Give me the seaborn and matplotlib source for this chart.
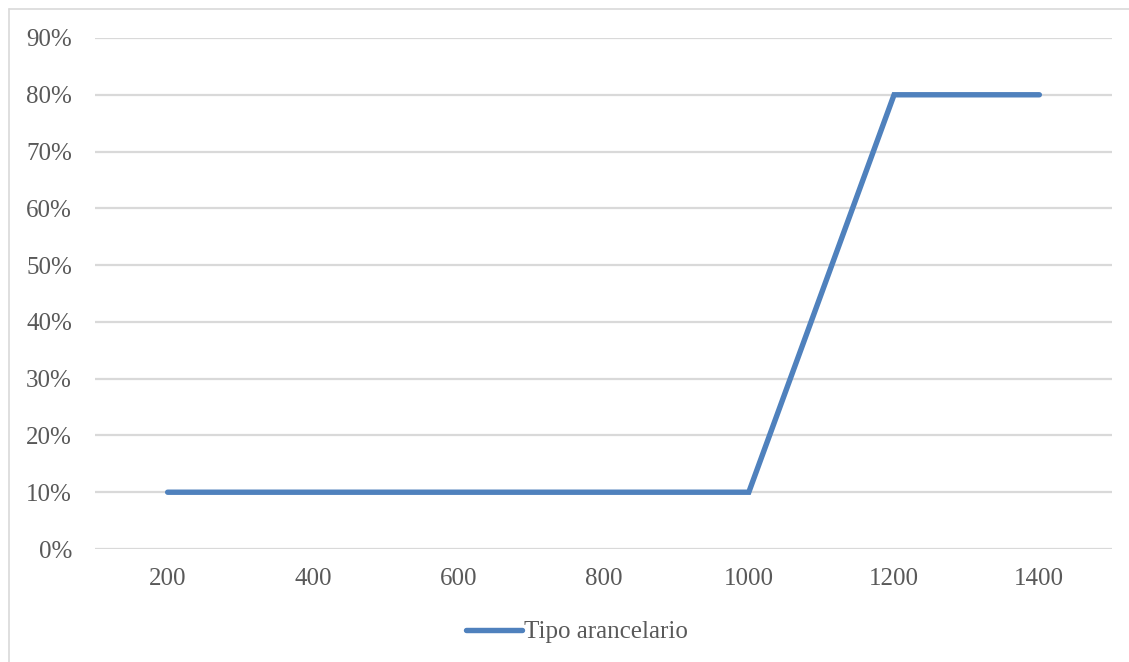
import matplotlib
matplotlib.use("Agg")
import matplotlib.pyplot as plt
from matplotlib.lines import Line2D
from matplotlib.ticker import PercentFormatter
import seaborn as sns
import pandas as pd

# Tariff rate by import value bracket
brackets = [200, 400, 600, 800, 1000, 1200, 1400]
tipo_arancelario = [0.10, 0.10, 0.10, 0.10, 0.10, 0.80, 0.80]
y_ticks = [0.0, 0.1, 0.2, 0.3, 0.4, 0.5, 0.6, 0.7, 0.8, 0.9]
series_name = "Tipo arancelario"

sns.set_theme(style="white")
plt.rcParams["font.family"] = ["Liberation Serif", "DejaVu Serif"]

df = pd.DataFrame({"valor": brackets, "tipo": tipo_arancelario})

W, H = 1129, 662
fig = plt.figure(figsize=(W / 100, H / 100), dpi=100)
ax = fig.add_axes([95 / W, 1 - 549 / H, (1112 - 95) / W, (549 - 38) / H])

blue = "#4F81BD"
grid_c = "#D9D9D9"
text_c = "#595959"
fs = 18

sns.lineplot(data=df, x="valor", y="tipo", ax=ax, color=blue, linewidth=3.9,
             solid_capstyle="round", solid_joinstyle="miter", label=series_name,
             legend=False)

ax.set_xlim(100, 1500)
ax.set_ylim(0, 0.9)
ax.set_xticks(brackets)
ax.set_xticklabels([str(b) for b in brackets])
ax.set_yticks(y_ticks)
ax.yaxis.set_major_formatter(PercentFormatter(1.0, decimals=0))

for y in y_ticks:
    ax.axhline(y, color=grid_c, linewidth=1.6, zorder=0)

for s in ax.spines.values():
    s.set_visible(False)

ax.tick_params(axis="both", length=0, labelsize=fs, colors=text_c)
ax.tick_params(axis="y", pad=16.5)
ax.tick_params(axis="x", pad=14)
ax.set_xlabel("")
ax.set_ylabel("")

handle = Line2D([], [], color=blue, linewidth=3.9, solid_capstyle="round")
fig.legend([handle], [series_name], loc="center", bbox_to_anchor=(577 / W, 1 - 632 / H),
           frameon=False, fontsize=fs, labelcolor=text_c, handlelength=2.25,
           handletextpad=0.08, borderpad=0)

# Chart frame (left and top edges)
fig.add_artist(Line2D([8.5 / W, 8.5 / W], [0, 1 - 9 / H], color=grid_c, linewidth=1.2,
                      transform=fig.transFigure))
fig.add_artist(Line2D([8.5 / W, 1], [1 - 9 / H, 1 - 9 / H], color=grid_c, linewidth=1.2,
                      transform=fig.transFigure))

fig.savefig("out.png", dpi=100, facecolor="white")
